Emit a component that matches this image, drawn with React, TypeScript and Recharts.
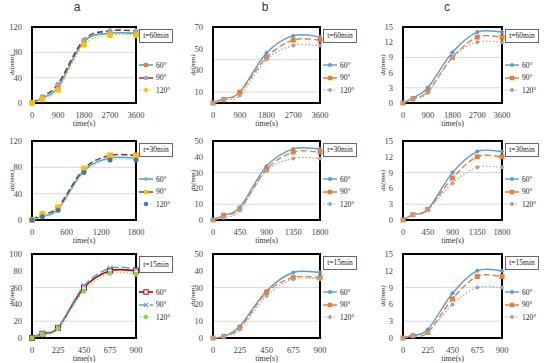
import {
  LineChart,
  Line,
  XAxis,
  YAxis,
  CartesianGrid,
  ReferenceArea,
  Legend,
} from "recharts";

// sample times (s) for each test duration
const times60 = [0, 360, 900, 1800, 2700, 3600];
const times30 = [0, 180, 450, 900, 1350, 1800];
const times15 = [0, 90, 225, 450, 675, 900];

// column a (60°, 90°, 120°)
const a60_60 = [0, 8, 25, 97, 110, 110];
const a60_90 = [0, 10, 30, 100, 114, 114];
const a60_120 = [0, 6, 21, 92, 107, 107];
const a30_60 = [0, 6, 16, 75, 94, 94];
const a30_90 = [0, 9, 19, 78, 98, 98];
const a30_120 = [0, 5, 15, 72, 91, 91];
const a15_60 = [0, 5, 12, 60, 80, 80];
const a15_90 = [0, 6, 13, 62, 83, 82];
const a15_120 = [0, 4, 11, 56, 77, 76];

// column b
const b60_60 = [0, 4, 10, 46, 62, 61];
const b60_90 = [0, 3, 10, 42, 58, 58];
const b60_120 = [0, 3, 7, 40, 53, 53];
const b30_60 = [0, 3, 8, 34, 45, 45];
const b30_90 = [0, 3, 7, 32, 43, 43];
const b30_120 = [0, 1.5, 6, 31, 39, 39];
const b15_60 = [0, 1, 7, 28, 39, 39];
const b15_90 = [0, 1, 6, 27, 36, 36];
const b15_120 = [0, 1, 5, 25, 35, 35];

// column c
const c60_60 = [0, 1, 3, 10, 14, 14];
const c60_90 = [0, 0.8, 2.3, 9, 13, 13];
const c60_120 = [0, 0.9, 2, 9, 12, 12];
const c30_60 = [0, 1, 2, 9, 13, 13];
const c30_90 = [0, 1, 2, 8, 12, 12];
const c30_120 = [0, 1, 2, 7, 10, 10];
const c15_60 = [0, 0.5, 1.5, 8, 12, 12];
const c15_90 = [0, 0.4, 1, 7, 11, 11];
const c15_120 = [0, 0.3, 1, 6, 9, 9];

// tick labels
const ticks60 = [0, 900, 1800, 2700, 3600];
const ticks30a = [0, 600, 1200, 1800];
const ticks30 = [0, 450, 900, 1350, 1800];
const ticks15 = [0, 225, 450, 675, 900];
const yTicks120 = [0, 20, 40, 60, 80, 100, 120];
const yTicks100 = [0, 20, 40, 60, 80, 100];
const yTicks70 = [0, 10, 20, 30, 40, 50, 60, 70];
const yTicks50 = [0, 10, 20, 30, 40, 50];
const yTicks15 = [0, 3, 6, 9, 12, 15];

const seriesNames = ["60°", "90°", "120°"];
const seriesKeys = ["s60", "s90", "s120"];
const columnTitles = ["a", "b", "c"];

const SERIF = "'Liberation Serif', 'Times New Roman', serif";

// line styles (excel defaults differ per sub-chart in column a)
const styleA60 = [
  { stroke: "#2FB5CC", dash: undefined, width: 1.6, marker: "square", markerColor: "#ED7D31", size: 2.5 },
  { stroke: "#953735", dash: "6 3", width: 1.6, marker: "circle", markerColor: "#A5A5A5", size: 2.5 },
  { stroke: "#FFC000", dash: "1.5 2", width: 1.2, marker: "circle", markerColor: "#FFC000", size: 3 },
];
const styleA30 = [
  { stroke: "#2FB5CC", dash: undefined, width: 1.6, marker: "circle", markerColor: "#A5A5A5", size: 2 },
  { stroke: "#953735", dash: "6 3", width: 1.6, marker: "square", markerColor: "#FFC000", size: 3 },
  { stroke: "#C4D79B", dash: "1.5 2", width: 1.2, marker: "circle", markerColor: "#4472C4", size: 2.5 },
];
const styleA15 = [
  { stroke: "#C00000", dash: undefined, width: 1.6, marker: "squareOpen", markerColor: "#C00000", size: 2.5 },
  { stroke: "#4BACC6", dash: "8 3", width: 1.6, marker: "x", markerColor: "#7F9FC8", size: 2.5 },
  { stroke: "#92D050", dash: "1.5 2", width: 1.2, marker: "circle", markerColor: "#92D050", size: 2.5 },
];
const styleBC = [
  { stroke: "#5B9BD5", dash: undefined, width: 1.4, marker: "circle", markerColor: "#5B9BD5", size: 2 },
  { stroke: "#ED7D31", dash: "6 3", width: 1.4, marker: "square", markerColor: "#ED7D31", size: 2.5 },
  { stroke: "#A5A5A5", dash: "1.5 2", width: 1.2, marker: "circle", markerColor: "#A5A5A5", size: 2 },
];

const panels = [
  { col: 0, row: 0, label: "t=60min", times: times60, series: [a60_60, a60_90, a60_120], xTicks: ticks60, yTicks: yTicks120, styles: styleA60 },
  { col: 1, row: 0, label: "t=60min", times: times60, series: [b60_60, b60_90, b60_120], xTicks: ticks60, yTicks: yTicks70, styles: styleBC },
  { col: 2, row: 0, label: "t=60min", times: times60, series: [c60_60, c60_90, c60_120], xTicks: ticks60, yTicks: yTicks15, styles: styleBC },
  { col: 0, row: 1, label: "t=30min", times: times30, series: [a30_60, a30_90, a30_120], xTicks: ticks30a, yTicks: yTicks120, styles: styleA30 },
  { col: 1, row: 1, label: "t=30min", times: times30, series: [b30_60, b30_90, b30_120], xTicks: ticks30, yTicks: yTicks50, styles: styleBC },
  { col: 2, row: 1, label: "t=30min", times: times30, series: [c30_60, c30_90, c30_120], xTicks: ticks30, yTicks: yTicks15, styles: styleBC },
  { col: 0, row: 2, label: "t=15min", times: times15, series: [a15_60, a15_90, a15_120], xTicks: ticks15, yTicks: yTicks100, styles: styleA15 },
  { col: 1, row: 2, label: "t=15min", times: times15, series: [b15_60, b15_90, b15_120], xTicks: ticks15, yTicks: yTicks50, styles: styleBC },
  { col: 2, row: 2, label: "t=15min", times: times15, series: [c15_60, c15_90, c15_120], xTicks: ticks15, yTicks: yTicks15, styles: styleBC },
];

// plot-area edges in the page
const colX = [[32, 136], [213, 320], [403, 502]];
const rowY = [[27, 103], [141, 220], [254, 338]];
const titleX = [77, 265, 447];

// excel-like smoothed line (catmull-rom style bezier)
const excelSmooth = (context: any) => {
  let pts: number[][] = [];
  return {
    areaStart() {},
    areaEnd() {},
    lineStart() {
      pts = [];
    },
    point(x: number, y: number) {
      pts.push([+x, +y]);
    },
    lineEnd() {
      if (!pts.length) return;
      context.moveTo(pts[0][0], pts[0][1]);
      for (let i = 0; i < pts.length - 1; i++) {
        const p0 = pts[i - 1] || pts[i];
        const p1 = pts[i];
        const p2 = pts[i + 1];
        const p3 = pts[i + 2] || p2;
        context.bezierCurveTo(
          p1[0] + (p2[0] - p0[0]) / 6,
          p1[1] + (p2[1] - p0[1]) / 6,
          p2[0] - (p3[0] - p1[0]) / 6,
          p2[1] - (p3[1] - p1[1]) / 6,
          p2[0],
          p2[1]
        );
      }
    },
  };
};

function Marker({ cx, cy, shape, color, size }: any) {
  if (shape === "square")
    return <rect x={cx - size} y={cy - size} width={size * 2} height={size * 2} fill={color} />;
  if (shape === "squareOpen")
    return <rect x={cx - size} y={cy - size} width={size * 2} height={size * 2} fill="#fff" stroke={color} strokeWidth={1} />;
  if (shape === "x")
    return (
      <path
        d={`M${cx - size},${cy - size}L${cx + size},${cy + size}M${cx - size},${cy + size}L${cx + size},${cy - size}`}
        stroke={color}
        strokeWidth={1.2}
      />
    );
  return <circle cx={cx} cy={cy} r={size} fill={color} />;
}

function LegendBox({ label, styles, tall }: any) {
  return (
    <div style={{ fontFamily: SERIF, fontSize: 7.5, color: "#222" }}>
      <div
        style={{
          border: "1px solid #666",
          width: 32,
          height: tall ? 15 : 12,
          lineHeight: tall ? "15px" : "12px",
          textAlign: "center",
          marginTop: 2,
        }}
      >
        {label}
      </div>
      <div style={{ height: tall ? 13 : 16 }} />
      {styles.map((s: any, i: number) => (
        <div key={i} style={{ display: "flex", alignItems: "center", height: 12.5 }}>
          <svg width={14} height={8} style={{ marginRight: 3 }}>
            <line x1={0} y1={4} x2={14} y2={4} stroke={s.stroke} strokeWidth={s.width} strokeDasharray={s.dash} />
            <Marker cx={7} cy={4} shape={s.marker} color={s.markerColor} size={Math.min(s.size, 2.2)} />
          </svg>
          <span>{seriesNames[i]}</span>
        </div>
      ))}
    </div>
  );
}

function Panel({ p }: any) {
  const [x0, x1] = colX[p.col];
  const [y0, y1] = rowY[p.row];
  const yAxisW = 40;
  const left = x0 - yAxisW;
  const top = y0 - 12;
  const width = x1 - x0 + yAxisW + 48;
  const height = y1 - y0 + 12 + 27;
  const xMax = p.times[p.times.length - 1];
  const yMax = p.yTicks[p.yTicks.length - 1];
  const data = p.times.map((t: number, i: number) => ({
    t,
    s60: p.series[0][i],
    s90: p.series[1][i],
    s120: p.series[2][i],
  }));
  const tickStyle = { fontSize: 8.5, fill: "#444", fontFamily: SERIF };

  return (
    <div style={{ position: "absolute", left, top, width, height }}>
      <LineChart width={width} height={height} data={data} margin={{ top: 12, right: 48, left: 0, bottom: 3 }}>
        <CartesianGrid vertical={false} stroke="#D9D9D9" />
        <XAxis
          dataKey="t"
          type="number"
          domain={[0, xMax]}
          ticks={p.xTicks}
          tickLine={false}
          axisLine={false}
          height={24}
          tick={tickStyle}
          tickMargin={3}
          label={{ value: "time(s)", position: "insideBottom", offset: 1, fontSize: 8, fill: "#333", fontFamily: SERIF }}
        />
        <YAxis
          type="number"
          domain={[0, yMax]}
          ticks={p.yTicks}
          width={yAxisW}
          tickLine={false}
          axisLine={false}
          tick={tickStyle}
          tickMargin={4}
          label={{ value: "dz(mm)", angle: -90, position: "center", fontSize: 7, fontStyle: "italic", fill: "#333", fontFamily: SERIF }}
        />
        {seriesKeys.map((k, i) => {
          const s = p.styles[i];
          return (
            <Line
              key={k}
              dataKey={k}
              name={seriesNames[i]}
              type={excelSmooth as any}
              stroke={s.stroke}
              strokeWidth={s.width}
              strokeDasharray={s.dash}
              dot={(d: any) => (
                <Marker key={`${k}-${d.index}`} cx={d.cx} cy={d.cy} shape={s.marker} color={s.markerColor} size={s.size} />
              )}
              activeDot={false}
              isAnimationActive={false}
            />
          );
        })}
        <ReferenceArea x1={0} x2={xMax} y1={0} y2={yMax} fill="none" stroke="#000" strokeWidth={2} ifOverflow="visible" />
        <Legend
          layout="horizontal"
          align="center"
          verticalAlign="middle"
          width={44}
          wrapperStyle={{ left: x1 - x0 + yAxisW + 3, top: 12, width: 44 }}
          content={() => <LegendBox label={p.label} styles={p.styles} tall={p.row === 2 && p.col === 0} />}
        />
      </LineChart>
    </div>
  );
}

export default function App() {
  return (
    <div style={{ position: "absolute", left: 0, top: 0, width: 550, height: 363, background: "#fff", overflow: "hidden" }}>
      {columnTitles.map((t, i) => (
        <div
          key={t}
          style={{
            position: "absolute",
            left: titleX[i] - 10,
            width: 20,
            top: 0,
            textAlign: "center",
            fontFamily: "Arial, 'Liberation Sans', sans-serif",
            fontSize: 12,
            color: "#333",
          }}
        >
          {t}
        </div>
      ))}
      {panels.map((p, i) => (
        <Panel key={i} p={p} />
      ))}
    </div>
  );
}
